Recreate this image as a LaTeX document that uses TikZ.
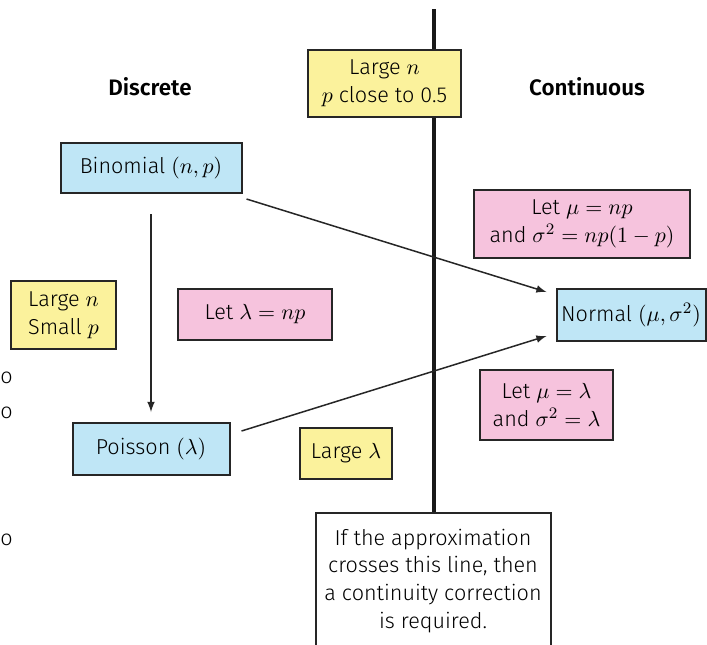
\documentclass[tikz,border=0pt]{standalone}
\usepackage[no-math]{fontspec}
\setmainfont{Fira Sans Light}[BoldFont={Fira Sans SemiBold}]
\usetikzlibrary{positioning}

\definecolor{distblue}{HTML}{BFE6F6}
\definecolor{condyellow}{HTML}{FBF29C}
\definecolor{calcpink}{HTML}{F6C3DD}

\tikzset{
    box/.style={draw=black!85,line width=1pt,align=center,inner sep=0pt,
        font=\fontsize{10.8}{13.8}\selectfont},
    dist/.style={box,fill=distblue},
    cond/.style={box,fill=condyellow},
    calc/.style={box,fill=calcpink},
    note/.style={box,fill=white,anchor=north,inner ysep=8pt},
    head/.style={font=\fontsize{11.2}{13}\selectfont\bfseries},
    arr/.style={-latex,line width=0.75pt,black!85},
}

\begin{document}
\begin{tikzpicture}[x=0.5pt,y=-0.5pt]
    \useasboundingbox (0,0) rectangle (707,644);

    % headings
    \node[head] (disc) at (150,87) {Discrete};
    \node[head] (cont) at (587,87) {Continuous};

    % the dividing line
    \coordinate (top) at (434,9);
    \node[note,minimum width=117.5pt,text depth=50pt] (rule) at (433,512)
        {If the approximation\\crosses this line, then\\a continuity correction\\is required.};
    \draw[line width=2.2pt,black!90] (top) -- (top |- rule.north);

    % distributions
    \node[dist,minimum width=90.5pt,minimum height=25pt] (binom) at (151,168) {Binomial $(n, p)$};
    \node[dist,minimum width=78.5pt,minimum height=26pt] (poisson) at (151,449) {Poisson $(\lambda)$};
    \node[dist,minimum width=74.5pt,minimum height=26pt] (normal) at (631,315) {Normal $(\mu, \sigma^2)$};

    % conditions
    \node[cond,minimum width=76.5pt,minimum height=33.5pt] (bigp) at (384.5,83.5) {Large $n$\\$p$ close to 0.5};
    \node[cond,minimum width=52.5pt,minimum height=34pt] (smallp) at (63.5,315) {Large $n$\\Small $p$};
    \node[cond,minimum width=46pt,minimum height=25.5pt] (biglam) at (346,453.5) {Large $\lambda$};

    % parameters
    \node[calc,minimum width=108pt,minimum height=34pt] (bnpar) at (582,224) {Let $\mu = np$\\and $\sigma^2 = np(1-p)$};
    \node[calc,minimum width=77pt,minimum height=25.5pt] (bppar) at (255,314.5) {Let $\lambda = np$};
    \node[calc,minimum width=66.5pt,minimum height=35pt] (pnpar) at (546.5,405) {Let $\mu = \lambda$\\and $\sigma^2 = \lambda$};

    % letters at the left edge
    \foreach \y/\n in {378/a,413/b,540/c}
        \node[font=\fontsize{10.8}{12}\selectfont,anchor=west,inner sep=0pt] (cut\n) at (0,\y) {o};

    % approximations
    \draw[arr,shorten <=10pt,shorten >=5pt] (binom) -- (poisson);
    \draw[arr] ([shift={(4,5)}]binom.south east) -- ([shift={(-9,4)}]normal.north west);
    \draw[arr] ([shift={(11,9)}]poisson.north east) -- ([shift={(-9,-6)}]normal.south west);
\end{tikzpicture}
\end{document}
